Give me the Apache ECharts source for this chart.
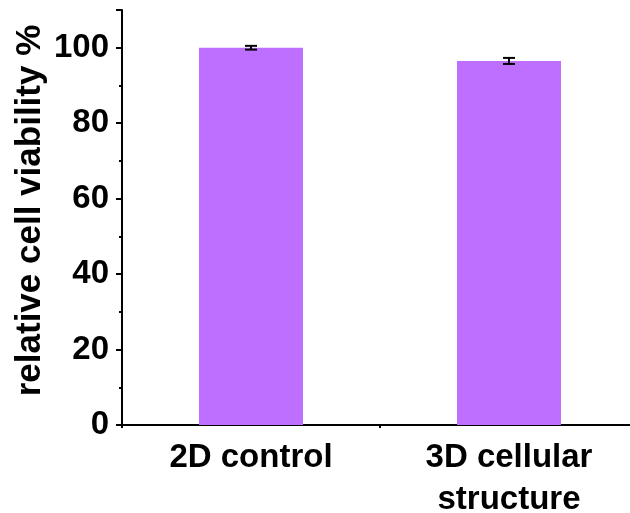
<!DOCTYPE html>
<html>
<head>
<meta charset="utf-8">
<script src="https://cdn.jsdelivr.net/npm/echarts@6/dist/echarts.min.js"></script>
<style>html,body{margin:0;padding:0;background:#fff}#c{width:630px;height:513px}</style>
</head>
<body>
<div id="c"></div>
<script>
const categories = ['2D control', '3D cellular\nstructure'];
const viability = [100.0, 96.5];
const errors = [0.5, 0.8];
const yTicks = [0, 20, 40, 60, 80, 100];
const yMax = 110;

const chart = echarts.init(document.getElementById('c'), null, {renderer: 'canvas'});
const font = 'Liberation Sans, Arial, sans-serif';
const errData = viability.map((v, i) => [i, v - errors[i], v + errors[i]]);

chart.setOption({
  animation: false,
  grid: {left: 122, right: -8, top: 10, bottom: 88, outerBoundsMode: 'none', containLabel: false},
  xAxis: [{
    type: 'category',
    data: categories,
    axisLine: {lineStyle: {color: '#000', width: 2}},
    axisTick: {alignWithLabel: true, length: 6, lineStyle: {color: '#000', width: 2}},
    axisLabel: {color: '#000', fontFamily: font, fontWeight: 'bold', fontSize: 33, lineHeight: 42, margin: 12, hideOverlap: false}
  }, {
    type: 'value', min: 0, max: 2, interval: 1, position: 'bottom',
    axisLine: {show: false}, splitLine: {show: false}, axisLabel: {show: false},
    axisTick: {show: true, length: 3, lineStyle: {color: '#000', width: 2}}
  }],
  yAxis: {
    type: 'value', min: 0, max: yMax, interval: 20,
    name: 'relative cell viability %', nameLocation: 'middle', nameGap: 74, nameMoveOverlap: false,
    nameTextStyle: {color: '#000', fontFamily: font, fontWeight: 'bold', fontSize: 35, padding: [0, 0, 0, 14]},
    axisLine: {show: true, lineStyle: {color: '#000', width: 2}},
    axisTick: {show: true, length: 6, lineStyle: {color: '#000', width: 2}},
    minorTick: {show: true, splitNumber: 2, length: 3, lineStyle: {color: '#000', width: 2}},
    splitLine: {show: false},
    axisLabel: {color: '#000', fontFamily: font, fontWeight: 'bold', fontSize: 33, margin: 13,
      formatter: v => yTicks.includes(v) ? String(v) : ''}
  },
  series: [{
    type: 'bar', data: viability, barWidth: 104, xAxisIndex: 0,
    itemStyle: {color: '#bf6fff'}
  }, {
    type: 'custom', xAxisIndex: 0, data: errData, z: 10,
    renderItem: function (params, api) {
      const x = api.value(0);
      const lo = api.coord([x, api.value(1)]);
      const hi = api.coord([x, api.value(2)]);
      const hw = 6;
      const st = {stroke: '#000', lineWidth: 2};
      return {type: 'group', children: [
        {type: 'line', shape: {x1: lo[0], y1: lo[1], x2: hi[0], y2: hi[1]}, style: st},
        {type: 'line', shape: {x1: lo[0] - hw, y1: lo[1], x2: lo[0] + hw, y2: lo[1]}, style: st},
        {type: 'line', shape: {x1: hi[0] - hw, y1: hi[1], x2: hi[0] + hw, y2: hi[1]}, style: st}
      ]};
    }
  }]
});
</script>
</body>
</html>
